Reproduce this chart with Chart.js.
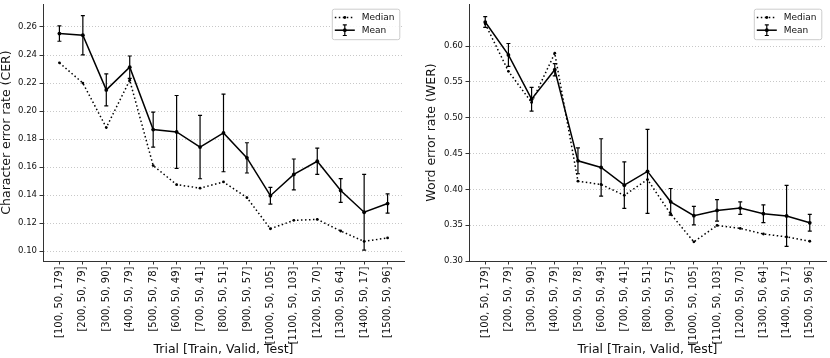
<!DOCTYPE html>
<html lang="en">
<head>
<meta charset="UTF-8">
<title>CER / WER per trial</title>
<script src="https://cdn.jsdelivr.net/npm/chart.js"></script>
<style>
	body { margin: 0; background: #fff; }
	.janela { position: relative; width: 830px; height: 358px; }
	canvas { position: absolute; top: 0; }
	#graficoCER { left: 0; }
	#graficoWER { left: 415px; }
</style>
</head>
<body>
<div class="janela">
	<canvas id="graficoCER" width="415" height="358"></canvas>
	<canvas id="graficoWER" width="415" height="358"></canvas>
</div>
<script>
	const trials = ['[100, 50, 179]', '[200, 50, 79]', '[300, 50, 90]', '[400, 50, 79]', '[500, 50, 78]',
		'[600, 50, 49]', '[700, 50, 41]', '[800, 50, 51]', '[900, 50, 57]', '[1000, 50, 105]',
		'[1100, 50, 103]', '[1200, 50, 70]', '[1300, 50, 64]', '[1400, 50, 17]', '[1500, 50, 96]'];

	const cerMean = [0.2553, 0.2541, 0.2151, 0.2313, 0.1868, 0.1851, 0.1743, 0.1844, 0.1666, 0.1396, 0.1548, 0.1642, 0.1433, 0.1278, 0.1340];
	const cerErr = [0.0055, 0.0140, 0.0114, 0.0080, 0.0125, 0.0260, 0.0226, 0.0277, 0.0108, 0.0060, 0.0110, 0.0094, 0.0085, 0.0270, 0.0069];
	const cerMedian = [0.2344, 0.2200, 0.1882, 0.2220, 0.1611, 0.1475, 0.1450, 0.1494, 0.1382, 0.1160, 0.1220, 0.1227, 0.1144, 0.1070, 0.1095];
	const cerTicks = [0.10, 0.12, 0.14, 0.16, 0.18, 0.20, 0.22, 0.24, 0.26];

	const werMean = [0.6335, 0.5876, 0.5258, 0.5670, 0.4398, 0.4306, 0.4059, 0.4251, 0.3826, 0.3633, 0.3706, 0.3739, 0.3660, 0.3629, 0.3533];
	const werErr = [0.0075, 0.0160, 0.0165, 0.0085, 0.0180, 0.0400, 0.0325, 0.0585, 0.0186, 0.0130, 0.0150, 0.0087, 0.0124, 0.0426, 0.0117];
	const werMedian = [0.6310, 0.5648, 0.5213, 0.5900, 0.4114, 0.4068, 0.3916, 0.4137, 0.3656, 0.3267, 0.3496, 0.3455, 0.3377, 0.3336, 0.3276];
	const werTicks = [0.30, 0.35, 0.40, 0.45, 0.50, 0.55, 0.60];

	const fonte = 'DejaVu Sans';
	Chart.defaults.font.family = fonte;
	Chart.defaults.color = '#111';

	// vertical error bars with small caps, through the chart scales
	const barrasErro = {
		id: 'barrasErro',
		afterDatasetsDraw(chart) {
			const ctx = chart.ctx;
			const sx = chart.scales.x, sy = chart.scales.y;
			chart.data.datasets.forEach(ds => {
				if (!ds.errors) return;
				ctx.save();
				ctx.strokeStyle = ds.borderColor;
				ctx.lineWidth = 1.2;
				ds.data.forEach((p, j) => {
					const px = sx.getPixelForValue(p.x);
					const topo = sy.getPixelForValue(p.y + ds.errors[j]);
					const base = sy.getPixelForValue(p.y - ds.errors[j]);
					ctx.beginPath();
					ctx.moveTo(px, topo); ctx.lineTo(px, base);
					ctx.moveTo(px - 2, topo); ctx.lineTo(px + 2, topo);
					ctx.moveTo(px - 2, base); ctx.lineTo(px + 2, base);
					ctx.stroke();
				});
				ctx.restore();
			});
		}
	};

	// matplotlib-like legend box in the upper right corner
	const legendaCaixa = {
		id: 'legendaCaixa',
		afterDraw(chart) {
			const a = chart.chartArea, ctx = chart.ctx;
			const w = 67.5, h = 30.5;
			const x0 = a.right - 4.7 - w, y0 = a.top + 4.7;
			ctx.save();
			ctx.fillStyle = 'rgba(255,255,255,0.85)';
			ctx.strokeStyle = '#cccccc';
			ctx.lineWidth = 1;
			ctx.beginPath();
			if (ctx.roundRect) ctx.roundRect(x0 + 0.5, y0 + 0.5, w, h, 2);
			else ctx.rect(x0 + 0.5, y0 + 0.5, w, h);
			ctx.fill();
			ctx.stroke();

			chart.data.datasets.forEach((ds, i) => {
				const cy = y0 + 8.8 + i * 12.7;
				const xa = x0 + 3, xb = x0 + 23, xm = (xa + xb) / 2;
				ctx.strokeStyle = '#000';
				ctx.fillStyle = '#000';
				ctx.lineWidth = ds.borderWidth;
				ctx.setLineDash(ds.borderDash || []);
				ctx.beginPath();
				ctx.moveTo(xa, cy); ctx.lineTo(xb, cy);
				ctx.stroke();
				ctx.setLineDash([]);
				if (ds.errors) {
					ctx.lineWidth = 1.2;
					ctx.beginPath();
					ctx.moveTo(xm, cy - 5.3); ctx.lineTo(xm, cy + 5.3);
					ctx.moveTo(xm - 2, cy - 5.3); ctx.lineTo(xm + 2, cy - 5.3);
					ctx.moveTo(xm - 2, cy + 5.3); ctx.lineTo(xm + 2, cy + 5.3);
					ctx.stroke();
				}
				ctx.beginPath();
				ctx.arc(xm, cy, ds.pointRadius, 0, Math.PI * 2);
				ctx.fill();
				ctx.font = '9px ' + fonte;
				ctx.textBaseline = 'middle';
				ctx.textAlign = 'left';
				ctx.fillStyle = '#111';
				ctx.fillText(ds.label, x0 + 30, cy);
			});
			ctx.restore();
		}
	};

	function pontos(valores) {
		return valores.map((v, i) => ({ x: i, y: v }));
	}

	function criarGrafico(id, tituloY, media, erro, mediana, yMin, yMax, yTicks, larguraY, padTitulo, padDireita) {
		const ctx = document.getElementById(id).getContext('2d');
		return new Chart(ctx, {
			type: 'line',
			data: {
				datasets: [{
					label: 'Median',
					data: pontos(mediana),
					borderColor: '#000',
					backgroundColor: '#000',
					borderWidth: 1.5,
					borderDash: [1.5, 2.5],
					pointRadius: 1.4,
					pointBorderWidth: 0,
					tension: 0
				}, {
					label: 'Mean',
					data: pontos(media),
					errors: erro,
					borderColor: '#000',
					backgroundColor: '#000',
					borderWidth: 1.5,
					pointRadius: 1.9,
					pointBorderWidth: 0,
					tension: 0
				}]
			},
			options: {
				responsive: false,
				animation: false,
				layout: { padding: { top: 0, left: 0, bottom: 0, right: padDireita } },
				plugins: { legend: { display: false }, tooltip: { enabled: false } },
				scales: {
					x: {
						type: 'linear',
						min: -0.7,
						max: trials.length - 1 + 0.7,
						afterBuildTicks: s => { s.ticks = trials.map((t, i) => ({ value: i })); },
						afterFit: s => { s.height = 97; s.paddingLeft = 0; s.paddingRight = 0; },
						ticks: {
							autoSkip: false,
							minRotation: 90,
							maxRotation: 90,
							padding: 2,
							font: { size: 10 },
							callback: v => trials[v]
						},
						grid: { drawOnChartArea: false, tickLength: 3.5, tickColor: '#333', tickWidth: 1 },
						border: { color: '#333', width: 1 },
						title: {
							display: true,
							text: 'Trial [Train, Valid, Test]',
							font: { size: 12.5, lineHeight: 1 },
							padding: { top: 0, bottom: 2 }
						}
					},
					y: {
						min: yMin,
						max: yMax,
						afterBuildTicks: s => { s.ticks = yTicks.map(v => ({ value: v })); },
						afterFit: s => { s.width = larguraY; s.paddingTop = 0; s.paddingBottom = 0; },
						ticks: {
							padding: 2.5,
							font: { size: 8.5 },
							callback: v => v.toFixed(2)
						},
						grid: { color: '#c8c8c8', lineWidth: 1, tickLength: 3.5, tickColor: '#333', tickWidth: 1 },
						border: { color: '#333', width: 1, dash: [1, 2] },
						title: {
							display: true,
							text: tituloY,
							font: { size: 12.5, lineHeight: 1 },
							padding: { top: padTitulo, bottom: 0 }
						}
					}
				}
			},
			plugins: [barrasErro, legendaCaixa]
		});
	}

	criarGrafico('graficoCER', 'Character error rate (CER)', cerMean, cerErr, cerMedian,
		0.0930, 0.2764, cerTicks, 43, 0, 11);
	criarGrafico('graficoWER', 'Word error rate (WER)', werMean, werErr, werMedian,
		0.3000, 0.6587, werTicks, 54, 10, 0);
</script>
</body>
</html>
